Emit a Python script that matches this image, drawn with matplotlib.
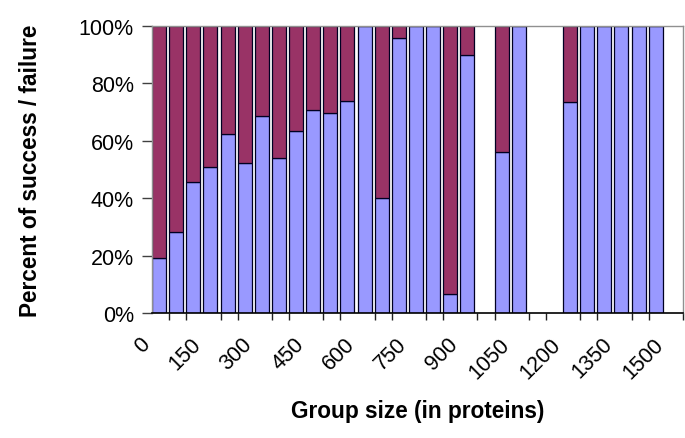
import numpy as np
import matplotlib
matplotlib.use("Agg")
import matplotlib.pyplot as plt
from matplotlib.ticker import FixedLocator, FuncFormatter
from matplotlib.transforms import ScaledTranslation

plt.rcParams['font.family'] = ['Liberation Sans', 'DejaVu Sans']

# bins start at 0, 50, ..., 1500 (group size in proteins)
bin_starts = list(range(0, 1501, 50))
success = [19.2, 28.1, 45.7, 51.0, 62.4, 52.4, 68.7, 54.0, 63.5, 70.6,
           69.8, 73.8, 100, 40.1, 95.9, 100, 100, 6.5, 90.0, np.nan,
           56.2, 100, np.nan, np.nan, 73.4, 100, 100, 100, 100, 100, np.nan]
failure = [100 - s if not np.isnan(s) else np.nan for s in success]
tick_labels = ['0', '150', '300', '450', '600', '750', '900', '1050', '1200', '1350', '1500']
ytick_vals = [0, 20, 40, 60, 80, 100]

success_col = '#9999FF'
failure_col = '#993366'

fig = plt.figure(figsize=(6.85, 4.39), dpi=100)
ax = fig.add_axes([0.2219, 0.2847, 0.997 - 0.2219, 0.9385 - 0.2847])

x = np.arange(len(bin_starts))
s = np.array(success, dtype=float)
f = np.array(failure, dtype=float)
mask = ~np.isnan(s)
ax.bar(x[mask], s[mask], width=0.82, align='edge', color=success_col,
       edgecolor='#000022', linewidth=0.9)
ax.bar(x[mask], f[mask], bottom=s[mask], width=0.82, align='edge',
       color=failure_col, edgecolor='#000022', linewidth=0.9)

ax.set_xlim(0, len(bin_starts))
ax.set_ylim(0, 100)

# x ticks: small marks at each bin boundary, labels every third bin
ax.xaxis.set_minor_locator(FixedLocator(np.arange(0, len(bin_starts) + 1)))
label_pos = [bin_starts.index(int(t)) for t in tick_labels]
ax.set_xticks(label_pos)
ax.set_xticklabels(tick_labels, rotation=45, ha='right', va='center',
                   rotation_mode='anchor', fontsize=15.5)
ax.tick_params(axis='x', which='major', length=0, pad=20)
ax.tick_params(axis='x', which='minor', length=5, width=1, color='#202020',
               direction='out')
shift = ScaledTranslation(-4 / 72, 0, fig.dpi_scale_trans)
for lab in ax.get_xticklabels():
    lab.set_transform(lab.get_transform() + shift)

ax.set_yticks(ytick_vals)
ax.yaxis.set_major_formatter(FuncFormatter(lambda v, p: f"{int(v)}%"))
ax.tick_params(axis='y', length=7, width=1, color='#404040', pad=6,
               labelsize=15.5)

for side in ['top', 'right', 'left']:
    ax.spines[side].set_color('#909090')
    ax.spines[side].set_linewidth(1)
ax.spines['bottom'].set_color('black')
ax.spines['bottom'].set_linewidth(1.2)

ax.set_ylabel('Percent of success / failure', fontsize=16.3, fontweight='bold')
ax.set_xlabel('Group size (in proteins)', fontsize=16.3, fontweight='bold')
ax.yaxis.set_label_coords(-0.208, 0.5)
ax.xaxis.set_label_coords(0.5, -0.30)

fig.savefig('out.png', dpi=100)
